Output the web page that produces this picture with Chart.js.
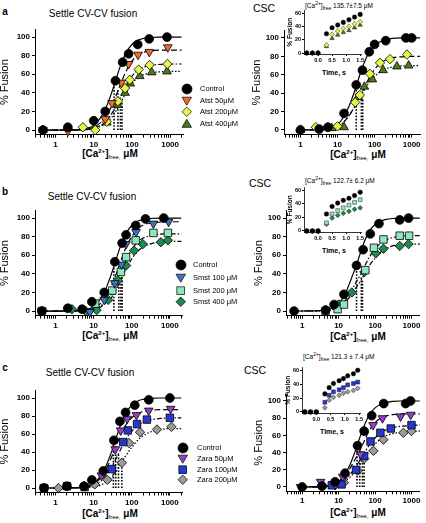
<!DOCTYPE html>
<html lang="en">
<head>
<meta charset="utf-8" />
<script src="https://cdn.jsdelivr.net/npm/chart.js@4.4.1/dist/chart.umd.min.js"></script>
<style>
  body { margin:0; background:#fff; font-family:"Liberation Sans", Arial, sans-serif; }
  #fig { position:relative; width:426px; height:523px; overflow:hidden; background:#fff; }
  #fig canvas { position:absolute; }
  .t { position:absolute; white-space:nowrap; color:#000; line-height:1; transform:translate(-50%,-50%); }
  .l { position:absolute; white-space:nowrap; color:#000; line-height:1; transform:translateY(-50%); }
  .xt { font-weight:bold; font-size:10px; }
  .xt sup { font-size:6px; vertical-align:4px; }
  .xt sub { font-size:6px; vertical-align:-2px; font-weight:normal; }
  .it { font-size:6.5px; color:#000; }
  .it sup { font-size:5px; vertical-align:3px; }
  .it sub { font-size:5px; vertical-align:-2px; }
  .lg { font-size:7.5px; }
  .lg svg { position:absolute; }
  .st { font-size:10px; }
  .csc { font-size:10.5px; }
</style>
</head>
<body>
<div id="fig">
  <!-- row a -->
  <div class="t" style="left:5px;top:12px;font-weight:bold;font-size:10px">a</div>
  <div class="t st" style="left:93px;top:14px">Settle CV-CV fusion</div>
  <div class="t csc" style="left:264px;top:8px">CSC</div>
  <div class="t xt" style="left:110px;top:154px">[Ca<sup>2+</sup>]<sub>free,</sub> &mu;M</div>
  <div class="t xt" style="left:358px;top:155px">[Ca<sup>2+</sup>]<sub>free,</sub> &mu;M</div>
  <div class="l it" style="left:305px;top:6px">[Ca<sup>2+</sup>]<sub>free</sub> 135.7&plusmn;7.5 &mu;M</div>
  <div class="t" style="left:334px;top:72px;font-weight:bold;font-size:7px">Time, s</div>

  <!-- row b -->
  <div class="t" style="left:5px;top:192px;font-weight:bold;font-size:10px">b</div>
  <div class="t st" style="left:92px;top:197px">Settle CV-CV fusion</div>
  <div class="t csc" style="left:260px;top:183px">CSC</div>
  <div class="t xt" style="left:110px;top:336px">[Ca<sup>2+</sup>]<sub>free,</sub> &mu;M</div>
  <div class="t xt" style="left:358px;top:337px">[Ca<sup>2+</sup>]<sub>free,</sub> &mu;M</div>
  <div class="l it" style="left:305px;top:181px">[Ca<sup>2+</sup>]<sub>free</sub> 122.7&plusmn; 6.2 &mu;M</div>
  <div class="t" style="left:334px;top:250px;font-weight:bold;font-size:7px">Time, s</div>

  <!-- row c -->
  <div class="t" style="left:5px;top:368px;font-weight:bold;font-size:10px">c</div>
  <div class="t st" style="left:90px;top:373px">Settle CV-CV fusion</div>
  <div class="t csc" style="left:255px;top:370px">CSC</div>
  <div class="t xt" style="left:110px;top:514px">[Ca<sup>2+</sup>]<sub>free,</sub> &mu;M</div>
  <div class="t xt" style="left:358px;top:513px">[Ca<sup>2+</sup>]<sub>free,</sub> &mu;M</div>
  <div class="l it" style="left:303px;top:357px">[Ca<sup>2+</sup>]<sub>free</sub> 121.3 &plusmn; 7.4 &mu;M</div>
  <div class="t" style="left:332px;top:431px;font-weight:bold;font-size:7px">Time, s</div>
</div>

<script>
// ---------------- data ----------------
// dose axis samples used to trace the fitted curves
const FIT_X_L = [0.47, 3, 6, 10, 15, 20, 25, 30, 40, 50, 70, 100, 150, 200, 300, 500, 1000, 2000];
const FIT_X_R = [1, 3, 6, 10, 15, 20, 25, 30, 40, 50, 70, 100, 150, 200, 300, 500, 1000, 1700];
const FIT_X_BR = [0.6, 3, 6, 10, 15, 20, 25, 30, 40, 50, 70, 100, 150, 200, 300, 500, 1000, 1700];

// panel a, settle CV-CV
const aL_ctrl_x = [0.47, 2.1, 10, 20, 37, 57, 82, 142, 283, 830];
const aL_ctrl_y = [0, 3, 10, 20, 53, 73, 82, 92, 98, 100];
const aL_a50_x  = [0.47, 2.1, 20, 30, 53, 82, 145, 285, 870];
const aL_a50_y  = [0, -1, 12, 29, 51, 71, 81, 84, 89];
const aL_a200_x = [0.47, 5.2, 11, 22, 43, 66, 88, 150, 290, 850];
const aL_a200_y = [0, 3, 0, 9, 31, 45, 54, 65, 70, 71];
const aL_a400_x = [0.47, 22, 43, 66, 90, 160, 330, 830];
const aL_a400_y = [0, 8, 27, 40, 50, 58, 62, 63];
const aL_ctrl_fit = [0, 0.3, 1.5, 5, 13, 22, 32, 41, 57, 69, 83, 92, 97, 98.5, 99.5, 100, 100, 100];
const aL_a50_fit  = [0, 0, 0.7, 3, 8, 14, 20, 27, 39, 49, 63, 74, 81, 83.5, 85, 86, 86, 86];
const aL_a200_fit = [0, 0, 0.4, 2, 5, 9, 13, 18, 27, 35, 48, 58, 65, 67.5, 69.5, 70.5, 71, 71];
const aL_a400_fit = [0, 0, 0.3, 1.5, 4, 7, 10.5, 14, 22, 29, 40, 50, 57, 59.5, 61.5, 62.5, 63, 63];
const aL_ec50_x = [34, 43, 50, 55];
const aL_ec50_h = [50, 43, 35, 31];

// panel a, CSC
const aR_ctrl_x = [1, 3.2, 5.5, 15, 32, 47, 72, 100, 200, 700, 1000];
const aR_ctrl_y = [0, 1, 3, 18, 49, 65, 85, 93, 97, 100, 100];
const aR_a200_x = [1, 2.6, 5.5, 10, 30, 40, 75, 140, 260, 750];
const aR_a200_y = [0, 3, 3, 4, 30, 38, 61, 73, 77, 82];
const aR_a400_x = [1, 7, 15, 36, 53, 87, 170, 400, 830];
const aR_a400_y = [0, 2, 3, 36, 47, 55, 65, 69, 70];
const aR_ctrl_fit = [0, 0.5, 2, 6, 15, 25, 35, 44, 60, 71, 84, 92, 96.5, 98, 99.5, 100, 100, 100];
const aR_a200_fit = [0, 0.2, 1.5, 4, 9, 15, 21, 26, 36, 44, 56, 66, 73, 76, 78.5, 79.5, 80, 80];
const aR_a400_fit = [0, 0.2, 1, 3.5, 9, 15, 21, 26, 35, 42, 51, 58, 64, 66.5, 68.5, 69.5, 70, 70];
const aR_ec50_x = [32, 44, 48];
const aR_ec50_h = [48, 40, 35];

// panel b, settle CV-CV
const bL_ctrl_x = [0.44, 2.1, 5, 9, 19, 36, 56, 71, 127, 230, 690];
const bL_ctrl_y = [0, 3, 2, 10, 20, 53, 73, 82, 92, 99, 100];
const bL_s100_x = [0.44, 8, 19, 36, 54, 71, 130, 370, 930];
const bL_s100_y = [0, -1, 12, 30, 50, 72, 85, 94, 96];
const bL_s200_x = [0.44, 11, 31, 52, 71, 127, 370, 890];
const bL_s200_y = [0, 8, 22, 42, 58, 76, 84, 84];
const bL_s400_x = [0.44, 2.7, 6.2, 12, 24, 43, 71, 115, 195, 580, 890];
const bL_s400_y = [0, 2, 0, 1, 12, 33, 49, 65, 72, 74, 76];
const bL_ctrl_fit = [0, 0.3, 1.5, 5, 13, 22, 32, 41, 57, 69, 83, 92, 97, 98.5, 99.5, 100, 100, 100];
const bL_s100_fit = [0, 0, 0.7, 3, 8, 14, 21, 28, 41, 52, 68, 80, 89, 92.5, 94.5, 95.5, 96, 96];
const bL_s200_fit = [0, 0, 0.5, 2, 5, 10, 14, 19, 30, 40, 54, 66, 75, 78.5, 81, 82.5, 83, 83];
const bL_s400_fit = [0, 0, 0.4, 1.5, 4, 8, 11.5, 15, 24, 32, 45, 56, 65, 69, 72, 74, 75, 75];
const bL_ec50_x = [34, 46, 52, 56];
const bL_ec50_h = [50, 48, 42, 37];

// panel b, CSC
const bR_ctrl_x = [0.6, 4.4, 7.5, 14, 31, 47, 74, 128, 475, 830];
const bR_ctrl_y = [0, 1, 7, 18, 49, 66, 83, 94, 98, 100];
const bR_s200_x = [4.4, 9.4, 14, 54, 93, 170, 475, 860];
const bR_s200_y = [0, 2, 7, 44, 68, 77, 81, 81];
const bR_s400_x = [4.4, 10, 23, 51, 105, 170, 475, 830];
const bR_s400_y = [1, 7, 20, 42, 62, 67, 70, 72];
const bR_ctrl_fit = [0, 0.5, 2.5, 8, 18, 30, 40, 48, 63, 74, 86, 93, 97, 98.5, 99.5, 100, 100, 100];
const bR_s200_fit = [0, 0.3, 1.5, 5, 11, 18, 25, 31, 39, 47, 58, 67, 73.5, 76.5, 79, 80.5, 81, 81];
const bR_s400_fit = [0, 0.2, 1, 4, 9, 15, 20, 25, 32, 39, 49, 57, 64, 67, 70, 71.5, 72, 72];
const bR_ec50_x = [31, 42, 45];
const bR_ec50_h = [49, 38, 34];

// panel c, settle CV-CV
const cL_ctrl_x = [0.5, 2, 5.6, 9, 18, 34, 49, 69, 120, 280, 1000];
const cL_ctrl_y = [0, 2, 2, 9, 19, 53, 74, 84, 92, 98, 100];
const cL_z50_x  = [0.5, 16, 37, 51, 76, 133, 280, 1050];
const cL_z50_y  = [0, 14, 43, 64, 77, 81, 86, 88];
const cL_z100_x = [0.5, 2, 5.8, 30, 60, 79, 138, 250, 1000];
const cL_z100_y = [0, 2, 1, 21, 51, 64, 71, 76, 78];
const cL_z200_x = [0.5, 1.2, 5.6, 10.7, 23, 55, 85, 165, 460, 1100];
const cL_z200_y = [0, 0, 2, 4, 9, 28, 50, 62, 65, 68];
const cL_ctrl_fit = [0, 0.3, 1.5, 5, 13, 22, 32, 41, 57, 69, 83, 92, 97, 98.5, 99.5, 100, 100, 100];
const cL_z50_fit  = [0, 0.2, 1, 4, 11, 19, 27, 35, 48, 58, 70, 78, 83, 85, 86, 87, 87, 87];
const cL_z100_fit = [0, 0.1, 0.8, 3, 7, 13, 18, 24, 34, 42, 54, 63, 70, 73, 75.5, 77, 78, 78];
const cL_z200_fit = [0, 0, 0.3, 1, 3, 6, 9, 12, 19, 26, 36, 45, 54, 58, 62, 64.5, 66, 66];
const cL_ec50_x = [33, 38, 45, 55];
const cL_ec50_h = [50, 43, 38, 33];

// panel c, CSC
const cR_ctrl_x = [1, 3.5, 8, 15, 33, 50, 81, 173, 690, 940];
const cR_ctrl_y = [0, 1, 6, 16, 48, 65, 83, 97, 97, 100];
const cR_z50_x  = [0.9, 3.2, 8, 13, 40, 88, 160, 500, 950];
const cR_z50_y  = [0, 6, 3, 12, 38, 72, 80, 82, 84];
const cR_z100_x = [6.5, 12, 30, 50, 75, 140, 270, 1000];
const cR_z100_y = [2, 3, 20, 36, 53, 63, 68, 72];
const cR_z200_x = [3.5, 8, 14, 33, 50, 90, 170, 600, 1000];
const cR_z200_y = [2, 2, 5, 19, 33, 42, 55, 63, 65];
const cR_ctrl_fit = [0, 0.5, 2, 6, 15, 25, 35, 44, 60, 71, 84, 92, 96.5, 98, 99.5, 100, 100, 100];
const cR_z50_fit  = [0, 0.5, 2, 6, 13, 21, 28, 34, 44, 53, 66, 75, 80.5, 82.5, 84, 85, 85, 85];
const cR_z100_fit = [0, 0.3, 1.5, 4, 9, 14, 19, 24, 32, 39, 49, 57, 63.5, 66.5, 69, 70.5, 71.5, 72];
const cR_z200_fit = [0, 0.2, 1, 3, 7, 11, 15, 19, 27, 33, 42, 50, 56.5, 59.5, 62, 63.5, 64.5, 65];
const cR_ec50_x = [32, 38, 45, 50];
const cR_ec50_h = [48, 42, 36, 32];

// insets (time course, s)
const T_ab = [-0.4, -0.2, 0, 0.3, 0.5, 0.7, 0.9, 1.1, 1.3, 1.5];
const ia_ctrl = [0, 0, 0, 29, 38, 42, 46, 50, 54, 58];
const ia_a200 = [0, 0, 0, 12, 28, 33, 37, 40, 44, 47];
const ia_a400 = [0, 0, 0, 10, 22, 27, 31, 34, 38, 42];
const ib_ctrl = [0, 0, 0, 25, 36, 41, 45, 48, 52, 57];
const ib_s200 = [0, 0, 0, 12, 25, 30, 34, 38, 42, 46];
const ib_s400 = [0, 0, 0, 10, 19, 23, 26, 29, 32, 34];
const T_c = [-0.4, -0.2, 0, 0.3, 0.45, 0.6, 0.8, 0.95, 1.1, 1.3, 1.45];
const ic_ctrl = [0, 0, 0, 26, 35, 41, 45, 48, 52, 55, 60];
const ic_z100 = [0, 0, 0, 14, 24, 29, 32, 35, 39, 41, 43];
const ic_z200 = [0, 0, 0, 6, 17, 21, 24, 27, 29, 31, 34];

const Y_TICKS = [0, 20, 40, 60, 80, 100];
const IN_Y_TICKS = [0, 10, 20, 30, 40, 50, 60];
const IN_X_TICKS = [0, 0.5, 1, 1.5];

const LEG_A = ['Control', 'Atst 50\u03bcM', 'Atst 200\u03bcM', 'Atst 400\u03bcM'];
const LEG_B = ['Control', 'Smst 100 \u03bcM', 'Smst 200 \u03bcM', 'Smst 400 \u03bcM'];
const LEG_C = ['Control', 'Zara 50\u03bcM', 'Zara 100\u03bcM', 'Zara 200\u03bcM'];

// ---------------- styles ----------------
const STY = {
  ctrl:    { color: '#000000', shape: 'circle',   r: 4.4 },
  atst50:  { color: '#F26A2E', shape: 'triangle', r: 5.0, rot: 180 },
  atst200: { color: '#E4F542', shape: 'rectRot',  r: 4.7 },
  atst400: { color: '#4E7A1C', shape: 'triangle', r: 5.0 },
  smst100: { color: '#3D74C6', shape: 'triangle', r: 5.0, rot: 180 },
  smst200: { color: '#8EE8BE', shape: 'rect',     r: 5.3 },
  smst400: { color: '#1E8A4E', shape: 'rectRot',  r: 4.7 },
  zara50:  { color: '#9440C8', shape: 'triangle', r: 5.0, rot: 180 },
  zara100: { color: '#2638D0', shape: 'rect',     r: 5.3 },
  zara200: { color: '#9A9A9A', shape: 'rectRot',  r: 4.7 }
};
const DASH = { solid: [], dash: [6, 3], dashdot: [5, 2, 1.5, 2], dashdotdot: [5, 2, 1.5, 2, 1.5, 2], dot: [1.5, 1.8] };

Chart.defaults.font.family = '"Liberation Sans", Arial, sans-serif';
Chart.defaults.color = '#000';
Chart.defaults.animation = false;

const fig = document.getElementById('fig');

function pts(xs, ys) { return xs.map((x, i) => ({ x: x, y: ys[i] })); }
function isPow10(v) { const l = Math.log10(v); return Math.abs(l - Math.round(l)) < 1e-6; }

function logTicks(min, max) {
  const out = [];
  for (let e = -1; e <= 3; e++) {
    for (let m = 1; m <= 9; m++) {
      const v = +(m * Math.pow(10, e)).toPrecision(6);
      if (v >= min && v <= max) out.push({ value: v, major: m === 1 });
    }
  }
  return out;
}

// canvas placed so that the chart area lands on the given page box
function canvasFor(area, yW, xH, padT, padR) {
  const c = document.createElement('canvas');
  const left = Math.floor(area.l - yW), top = Math.floor(area.t - padT);
  const w = Math.ceil(area.r + padR - left), h = Math.ceil(area.b + xH - top);
  c.width = w; c.height = h;
  c.style.left = left + 'px'; c.style.top = top + 'px';
  c.style.width = w + 'px'; c.style.height = h + 'px';
  fig.appendChild(c);
  return { c: c, yW: area.l - left, xH: top + h - area.b, padT: area.t - top, padR: left + w - area.r };
}

function markerSet(xs, ys, key, scale) {
  const st = STY[key];
  return {
    data: pts(xs, ys), showLine: false, clip: false, order: 0,
    pointStyle: st.shape, rotation: st.rot || 0, pointRadius: st.r * scale,
    backgroundColor: st.color, borderColor: '#000', borderWidth: 0.8 * scale
  };
}

function mainChart(area, side, series, ec) {
  const xr = side === 'L' ? [0.29, 2200] : [0.36, 1700];
  const g = canvasFor(area, side === 'L' ? 37 : 34, 16, 7, side === 'L' ? 4 : 2);
  const ds = [];
  series.forEach(s => {
    ds.push(markerSet(s.x, s.y, s.key, 1));
    ds.push({
      data: pts(s.fx, s.fy), showLine: true, pointRadius: 0, order: 1,
      borderColor: '#000', borderWidth: 1.2, borderDash: DASH[s.dash],
      cubicInterpolationMode: 'monotone', fill: false
    });
  });
  ec.x.forEach((x, i) => ds.push({
    data: [{ x: x, y: 0 }, { x: x, y: ec.h[i] }], showLine: true, pointRadius: 0, order: 2,
    borderColor: '#000', borderWidth: 1.6, borderDash: [1.6, 1.6]
  }));
  new Chart(g.c, {
    type: 'scatter',
    data: { datasets: ds },
    options: {
      responsive: false,
      layout: { padding: { top: g.padT, right: g.padR, left: 0, bottom: 0 } },
      plugins: { legend: { display: false }, tooltip: { enabled: false } },
      scales: {
        x: {
          type: 'logarithmic', min: xr[0], max: xr[1],
          afterBuildTicks: s => { s.ticks = logTicks(xr[0], xr[1]); },
          afterFit: s => { s.height = g.xH; },
          ticks: { autoSkip: false, maxRotation: 0, padding: 2, font: { size: 8, weight: 'bold' },
                   callback: v => isPow10(v) ? String(v) : '' },
          grid: { drawOnChartArea: false, tickLength: 3, color: '#000' },
          border: { color: '#000', width: 1 }
        },
        y: {
          min: -5, max: 108,
          afterBuildTicks: s => { s.ticks = Y_TICKS.map(v => ({ value: v })); },
          afterFit: s => { s.width = g.yW; },
          ticks: { padding: 2, font: { size: 8, weight: 'bold' } },
          grid: { drawOnChartArea: false, tickLength: 3, color: '#000' },
          border: { color: '#000', width: 1 },
          title: { display: true, text: '% Fusion', font: { size: 11 }, padding: 0 }
        }
      }
    }
  });
}

function insetChart(area, t, series) {
  const g = canvasFor(area, 18, 12, 4, 3);
  const ds = series.map(s => markerSet(t, s.y, s.key, 0.52));
  new Chart(g.c, {
    type: 'scatter',
    data: { datasets: ds },
    options: {
      responsive: false,
      layout: { padding: { top: g.padT, right: g.padR, left: 0, bottom: 0 } },
      plugins: { legend: { display: false }, tooltip: { enabled: false } },
      scales: {
        x: {
          min: -0.5, max: 1.55,
          afterBuildTicks: s => { s.ticks = IN_X_TICKS.map(v => ({ value: v })); },
          afterFit: s => { s.height = g.xH; },
          ticks: { autoSkip: false, maxRotation: 0, padding: 1, font: { size: 5.5, weight: 'bold' },
                   callback: v => Number(v).toFixed(1) },
          grid: { drawOnChartArea: false, tickLength: 2, color: '#000' },
          border: { color: '#000', width: 0.8 }
        },
        y: {
          min: -1.5, max: 64,
          afterBuildTicks: s => { s.ticks = IN_Y_TICKS.map(v => ({ value: v })); },
          afterFit: s => { s.width = g.yW; },
          ticks: { padding: 1, font: { size: 5.5, weight: 'bold' } },
          grid: { drawOnChartArea: false, tickLength: 2, color: '#000' },
          border: { color: '#000', width: 0.8 },
          title: { display: true, text: '% Fusion', font: { size: 6.5, weight: 'bold' }, padding: 0 }
        }
      }
    }
  });
}

function markerSvg(st, s) {
  const r = s / 2, c = r + 1, w = s + 2;
  let el = '';
  if (st.shape === 'circle') el = `<circle cx="${c}" cy="${c}" r="${r}"/>`;
  else if (st.shape === 'triangle') {
    const p = st.rot === 180
      ? [[c - r, c - r * 0.75], [c + r, c - r * 0.75], [c, c + r * 0.95]]
      : [[c - r, c + r * 0.75], [c + r, c + r * 0.75], [c, c - r * 0.95]];
    el = `<polygon points="${p.map(q => q.join(',')).join(' ')}"/>`;
  } else if (st.shape === 'rectRot') el = `<polygon points="${c},${c - r} ${c + r},${c} ${c},${c + r} ${c - r},${c}"/>`;
  else el = `<rect x="${c - r * 0.82}" y="${c - r * 0.82}" width="${r * 1.64}" height="${r * 1.64}"/>`;
  return `<svg width="${w}" height="${w}" style="left:${-w / 2}px;top:${-w / 2}px"><g fill="${st.color}" stroke="#000" stroke-width="0.7">${el}</g></svg>`;
}

function legend(names, keys, mx, tx, rows) {
  names.forEach((n, i) => {
    const m = document.createElement('div');
    m.className = 'lg'; m.style.position = 'absolute';
    m.style.left = mx + 'px'; m.style.top = rows[i] + 'px';
    m.innerHTML = markerSvg(STY[keys[i]], keys[i] === 'ctrl' ? 10 : 9.5);
    fig.appendChild(m);
    const d = document.createElement('div');
    d.className = 'l lg'; d.style.left = tx + 'px'; d.style.top = rows[i] + 'px';
    d.textContent = n;
    fig.appendChild(d);
  });
}

// ---------------- panels ----------------
mainChart({ l: 35, t: 29.6, r: 185, b: 134.7 }, 'L', [
  { key: 'ctrl',    x: aL_ctrl_x, y: aL_ctrl_y, fx: FIT_X_L, fy: aL_ctrl_fit, dash: 'solid' },
  { key: 'atst50',  x: aL_a50_x,  y: aL_a50_y,  fx: FIT_X_L, fy: aL_a50_fit,  dash: 'dash' },
  { key: 'atst200', x: aL_a200_x, y: aL_a200_y, fx: FIT_X_L, fy: aL_a200_fit, dash: 'dashdot' },
  { key: 'atst400', x: aL_a400_x, y: aL_a400_y, fx: FIT_X_L, fy: aL_a400_fit, dash: 'dot' }
], { x: aL_ec50_x, h: aL_ec50_h });

mainChart({ l: 284, t: 30.6, r: 424, b: 134.6 }, 'R', [
  { key: 'ctrl',    x: aR_ctrl_x, y: aR_ctrl_y, fx: FIT_X_R, fy: aR_ctrl_fit, dash: 'solid' },
  { key: 'atst200', x: aR_a200_x, y: aR_a200_y, fx: FIT_X_R, fy: aR_a200_fit, dash: 'dash' },
  { key: 'atst400', x: aR_a400_x, y: aR_a400_y, fx: FIT_X_R, fy: aR_a400_fit, dash: 'dot' }
], { x: aR_ec50_x, h: aR_ec50_h });

insetChart({ l: 304, t: 10.3, r: 362.5, b: 54 }, T_ab, [
  { key: 'ctrl', y: ia_ctrl }, { key: 'atst200', y: ia_a200 }, { key: 'atst400', y: ia_a400 }
]);

mainChart({ l: 35, t: 210.6, r: 185, b: 315.7 }, 'L', [
  { key: 'ctrl',    x: bL_ctrl_x, y: bL_ctrl_y, fx: FIT_X_L, fy: bL_ctrl_fit, dash: 'solid' },
  { key: 'smst100', x: bL_s100_x, y: bL_s100_y, fx: FIT_X_L, fy: bL_s100_fit, dash: 'dash' },
  { key: 'smst200', x: bL_s200_x, y: bL_s200_y, fx: FIT_X_L, fy: bL_s200_fit, dash: 'dashdot' },
  { key: 'smst400', x: bL_s400_x, y: bL_s400_y, fx: FIT_X_L, fy: bL_s400_fit, dash: 'dashdotdot' }
], { x: bL_ec50_x, h: bL_ec50_h });

mainChart({ l: 286, t: 210.6, r: 424, b: 315.7 }, 'R', [
  { key: 'ctrl',    x: bR_ctrl_x, y: bR_ctrl_y, fx: FIT_X_BR, fy: bR_ctrl_fit, dash: 'solid' },
  { key: 'smst200', x: bR_s200_x, y: bR_s200_y, fx: FIT_X_BR, fy: bR_s200_fit, dash: 'dashdot' },
  { key: 'smst400', x: bR_s400_x, y: bR_s400_y, fx: FIT_X_BR, fy: bR_s400_fit, dash: 'dashdotdot' }
], { x: bR_ec50_x, h: bR_ec50_h });

insetChart({ l: 304, t: 187.2, r: 362.5, b: 232 }, T_ab, [
  { key: 'ctrl', y: ib_ctrl }, { key: 'smst200', y: ib_s200 }, { key: 'smst400', y: ib_s400 }
]);

mainChart({ l: 35, t: 390.8, r: 185, b: 492.5 }, 'L', [
  { key: 'ctrl',    x: cL_ctrl_x, y: cL_ctrl_y, fx: FIT_X_L, fy: cL_ctrl_fit, dash: 'solid' },
  { key: 'zara50',  x: cL_z50_x,  y: cL_z50_y,  fx: FIT_X_L, fy: cL_z50_fit,  dash: 'dash' },
  { key: 'zara100', x: cL_z100_x, y: cL_z100_y, fx: FIT_X_L, fy: cL_z100_fit, dash: 'dashdot' },
  { key: 'zara200', x: cL_z200_x, y: cL_z200_y, fx: FIT_X_L, fy: cL_z200_fit, dash: 'dot' }
], { x: cL_ec50_x, h: cL_ec50_h });

mainChart({ l: 286, t: 394.1, r: 424, b: 491.3 }, 'R', [
  { key: 'ctrl',    x: cR_ctrl_x, y: cR_ctrl_y, fx: FIT_X_R, fy: cR_ctrl_fit, dash: 'solid' },
  { key: 'zara50',  x: cR_z50_x,  y: cR_z50_y,  fx: FIT_X_R, fy: cR_z50_fit,  dash: 'dash' },
  { key: 'zara100', x: cR_z100_x, y: cR_z100_y, fx: FIT_X_R, fy: cR_z100_fit, dash: 'dashdot' },
  { key: 'zara200', x: cR_z200_x, y: cR_z200_y, fx: FIT_X_R, fy: cR_z200_fit, dash: 'dot' }
], { x: cR_ec50_x, h: cR_ec50_h });

insetChart({ l: 302, t: 367.5, r: 361.5, b: 413 }, T_c, [
  { key: 'ctrl', y: ic_ctrl }, { key: 'zara100', y: ic_z100 }, { key: 'zara200', y: ic_z200 }
]);

legend(LEG_A, ['ctrl', 'atst50', 'atst200', 'atst400'], 187, 200, [89, 100.5, 112, 123.5]);
legend(LEG_B, ['ctrl', 'smst100', 'smst200', 'smst400'], 181, 193, [265, 278, 290.5, 302]);
legend(LEG_C, ['ctrl', 'zara50', 'zara100', 'zara200'], 183, 197, [448, 459, 469.5, 480]);
</script>
</body>
</html>
